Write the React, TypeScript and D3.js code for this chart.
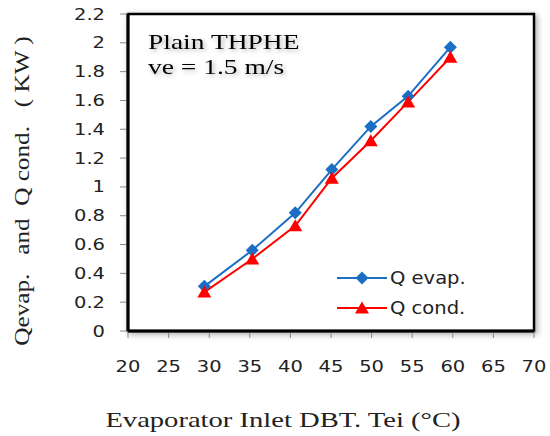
import React from "react";
import * as d3 from "d3";

const xTicks = [20, 25, 30, 35, 40, 45, 50, 55, 60, 65, 70];
const yTicks = [0, 0.2, 0.4, 0.6, 0.8, 1, 1.2, 1.4, 1.6, 1.8, 2, 2.2];
const tei = [29.4, 35.3, 40.6, 45.1, 49.9, 54.5, 59.7];
const qEvap = [0.31, 0.56, 0.82, 1.12, 1.42, 1.63, 1.97];
const qCond = [0.27, 0.5, 0.73, 1.06, 1.32, 1.59, 1.9];
const seriesNames = ["Q evap.", "Q cond."];
const noteLines = ["Plain THPHE", "ve = 1.5 m/s"];
const xTitle = "Evaporator Inlet DBT. Tei (°C)";
const yTitle = "Qevap.   and  Q cond.   ( KW )";

const W = 550, H = 436;
const L = 128, R = 534, T = 14, B = 331;

export default function App() {
  const x = d3.scaleLinear().domain([20, 70]).range([L, R]);
  const y = d3.scaleLinear().domain([0, 2.2]).range([B, T]);
  const line = d3.line<[number, number]>().x(d => x(d[0])).y(d => y(d[1]));
  const evapPts: [number, number][] = tei.map((t, i) => [t, qEvap[i]]);
  const condPts: [number, number][] = tei.map((t, i) => [t, qCond[i]]);
  const blue = "#1a6fc4";
  const red = "#ff0000";
  const diamond = (cx: number, cy: number, key: any) => (
    <path key={key} d={`M${cx},${cy - 6.5}L${cx + 6.5},${cy}L${cx},${cy + 6.5}L${cx - 6.5},${cy}Z`} fill={blue} />
  );
  const tri = (cx: number, cy: number, key: any) => (
    <path key={key} d={`M${cx},${cy - 6.5}L${cx + 7},${cy + 5.5}L${cx - 7},${cy + 5.5}Z`} fill={red} />
  );
  const sans = "'DejaVu Sans', Verdana, sans-serif";
  const serif = "'Liberation Serif', 'Times New Roman', serif";
  return (
    <div style={{ position: "absolute", left: 0, top: 0 }}>
      <svg width={W} height={H} style={{ display: "block", background: "#fff" }}>
        <defs>
          <filter id="sh" x="-10%" y="-10%" width="130%" height="130%">
            <feDropShadow dx="2" dy="2" stdDeviation="3" floodColor="#000" floodOpacity="0.35" />
          </filter>
          <filter id="tsh" x="-10%" y="-30%" width="130%" height="180%">
            <feDropShadow dx="1.5" dy="2" stdDeviation="2" floodColor="#000" floodOpacity="0.3" />
          </filter>
        </defs>
        <rect x={L} y={T} width={R - L} height={B - T} fill="#fff" stroke="#000" strokeWidth={2.5} filter="url(#sh)" />
        {yTicks.map(v => (
          <g key={"y" + v}>
            <line x1={L - 8} x2={L} y1={y(v)} y2={y(v)} stroke="#888" strokeWidth={1} />
            <text transform={`translate(${L - 23},${y(v) + 5.5}) scale(1.3,1)`} textAnchor="end" fontFamily={sans} fontSize={15} fill="#222">{String(v)}</text>
          </g>
        ))}
        {xTicks.map(v => (
          <g key={"x" + v}>
            <line x1={x(v)} x2={x(v)} y1={B} y2={B + 7} stroke="#888" strokeWidth={1} />
            <text transform={`translate(${x(v)},${372}) scale(1.3,1)`} textAnchor="middle" fontFamily={sans} fontSize={15} fill="#222">{String(v)}</text>
          </g>
        ))}
        <line x1={L} x2={L} y1={T} y2={B} stroke="#000" strokeWidth={3} />
        <line x1={L} x2={R} y1={B} y2={B} stroke="#000" strokeWidth={3} />
        {noteLines.map((t, i) => (
          <text key={t} transform={`translate(148,${49 + i * 25}) scale(1.25,1)`} fontFamily={serif} fontSize={22} fill="#000" filter="url(#tsh)">{t}</text>
        ))}
        <path d={line(evapPts) || ""} fill="none" stroke={blue} strokeWidth={2} />
        <path d={line(condPts) || ""} fill="none" stroke={red} strokeWidth={2} />
        {evapPts.map((p, i) => diamond(x(p[0]), y(p[1]), "d" + i))}
        {condPts.map((p, i) => tri(x(p[0]), y(p[1]), "t" + i))}
        <line x1={337} x2={387} y1={278} y2={278} stroke={blue} strokeWidth={2} />
        {diamond(362, 278, "ld")}
        <text transform="translate(390,284) scale(1.15,1)" fontFamily={sans} fontSize={17} fill="#222">{seriesNames[0]}</text>
        <line x1={337} x2={387} y1={308} y2={308} stroke={red} strokeWidth={2} />
        {tri(362, 308, "lt")}
        <text transform="translate(390,314) scale(1.15,1)" fontFamily={sans} fontSize={17} fill="#222">{seriesNames[1]}</text>
        <text transform="translate(283,427) scale(1.3,1)" textAnchor="middle" fontFamily={serif} fontSize={22} fill="#222" style={{ whiteSpace: "pre" }}>{xTitle}</text>
        <text transform={`translate(29,191) rotate(-90) scale(1.2,1)`} textAnchor="middle" fontFamily={serif} fontSize={21} fill="#222" style={{ whiteSpace: "pre" }}>{yTitle}</text>
      </svg>
    </div>
  );
}
